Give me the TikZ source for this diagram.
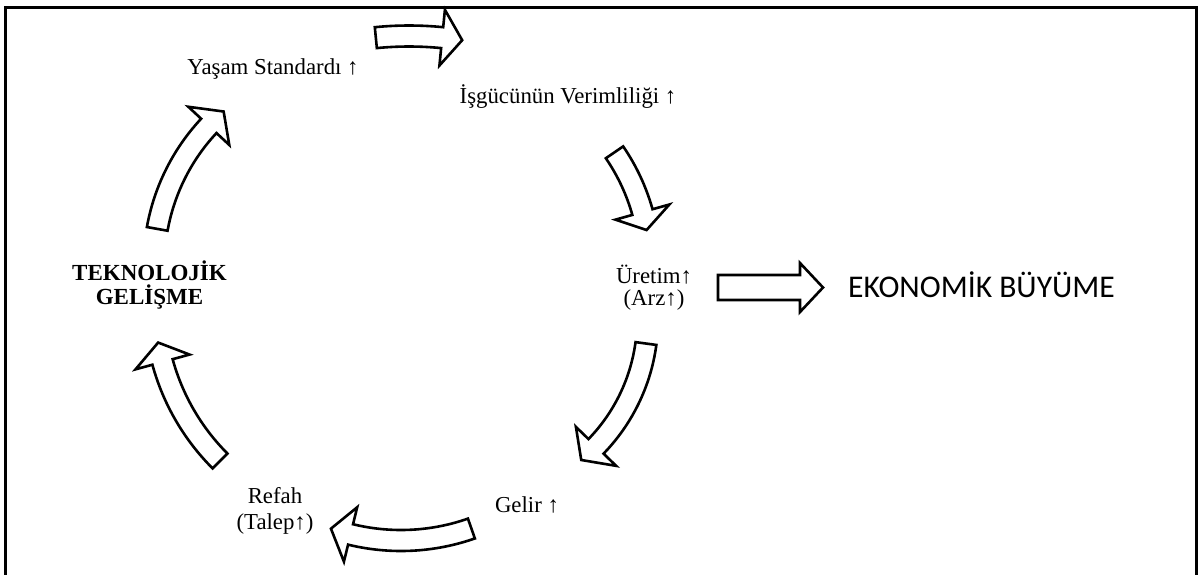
\documentclass[tikz,border=0pt]{standalone}
\usepackage{fontspec}
\setmainfont{Liberation Serif}
\newfontfamily\calib{Carlito}
\begin{document}
\begin{tikzpicture}[x=1pt,y=-1pt,
  lbl/.style={font=\fontsize{22.8}{24}\selectfont, inner sep=0pt, align=center},
  barrow/.style={draw=black, line width=2.6pt, fill=white, line join=miter},
  frame/.style={draw=black, line width=3pt}]
\useasboundingbox (0,0) rectangle (1198,574);
\def\sw{10.5}
\def\hw{28}
\newcommand{\blockarc}[6]{%
  \draw[barrow] plot[domain=#4:#5, samples=40] ({#1+(#3+\sw)*cos(\x)},{#2+(#3+\sw)*sin(\x)})
   -- ({#1+(#3+\hw)*cos(#5)},{#2+(#3+\hw)*sin(#5)})
   -- ({#1+#3*cos(#6)},{#2+#3*sin(#6)})
   -- ({#1+(#3-\hw)*cos(#5)},{#2+(#3-\hw)*sin(#5)})
   -- plot[domain=#5:#4, samples=40] ({#1+(#3-\sw)*cos(\x)},{#2+(#3-\sw)*sin(\x)})
   -- cycle;}
% frame
\draw[frame] (5.5,590) -- (5.5,7) -- (1196.5,7) -- (1196.5,590);
% labels
\node[lbl, anchor=base] (yasam) at (273,74) {Yaşam Standardı ↑};
\node[lbl, anchor=base] (isgucu) at (568,103) {İşgücünün Verimliliği ↑};
\node[lbl, font=\fontsize{22.8}{22}\selectfont] (uretim) at (654,288) {Üretim↑\\(Arz↑)};
\node[lbl, anchor=base] (gelir) at (527,512) {Gelir ↑};
\node[lbl, font=\fontsize{22.8}{26}\selectfont] (refah) at (275,511) {Refah\\(Talep↑)};
\node[lbl, font=\fontsize{23}{24}\selectfont\bfseries] (tekno) at (149.5,285) {TEKNOLOJİK\\GELİŞME};
\node[inner sep=0pt, anchor=base, font=\fontsize{31.6}{36}\selectfont\calib] (ekonomik) at (981.5,297) {EKONOMİK BÜYÜME};
% cycle arrows
\blockarc{409}{376}{340}{-95.6}{-84.4}{-81.0}
\blockarc{447}{267}{203}{-34.4}{-15.7}{-10.5}
\blockarc{464.6}{319}{183}{7.7}{44.1}{50.4}
\blockarc{401}{327.5}{213}{70.7}{103.7}{109.2}
\blockarc{378}{303}{223.4}{135}{164.7}{169.8}
\blockarc{358}{265}{204}{190.2}{223}{228.8}
% straight arrow to EKONOMIK BUYUME
\draw[barrow] (718,275) -- (800,275) -- (800,263) -- (823,287.5) -- (800,312) -- (800,300) -- (718,300) -- cycle;
\end{tikzpicture}
\end{document}
